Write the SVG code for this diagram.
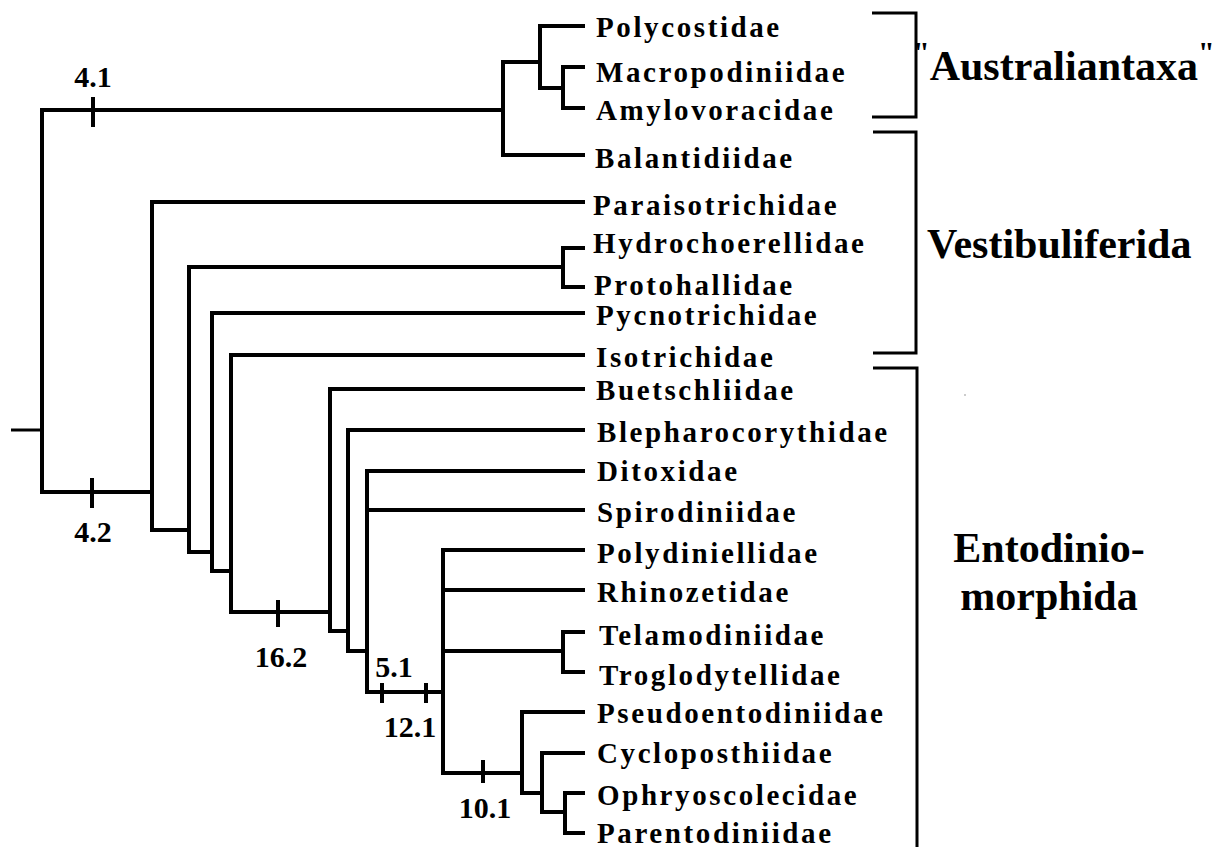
<svg xmlns="http://www.w3.org/2000/svg" width="1217" height="847" viewBox="0 0 1217 847">
<style>
.br{fill:none;stroke:#000;stroke-width:4;stroke-linejoin:miter;stroke-linecap:butt}
.bk{fill:none;stroke:#000;stroke-width:3;stroke-linejoin:miter}
.tk{stroke:#000;stroke-width:4}
.leaf{font-family:"Liberation Serif","Times New Roman",serif;font-weight:bold;font-size:29px;letter-spacing:2.6px;fill:#000}
.num{font-family:"Liberation Serif","Times New Roman",serif;font-weight:bold;font-size:30px;fill:#000;text-anchor:middle}
.grp{font-family:"Liberation Serif","Times New Roman",serif;font-weight:bold;font-size:42px;fill:#000}
</style>
<rect width="1217" height="847" fill="#fff"/>
<g id="connectors">
<path class="br" style="stroke-width:3" d="M11,430 H42"/>
<path class="br" d="M503,110 H42 V492 H152"/>
<path class="br" d="M540,62 H503 V155 H585"/>
<path class="br" d="M585,26 H540 V88 H563"/>
<path class="br" d="M585,67 H563 V108 H585"/>
<path class="br" d="M585,202 H152 V530 H189"/>
<path class="br" d="M563,267 H189 V552 H212"/>
<path class="br" d="M585,248 H563 V287 H585"/>
<path class="br" d="M585,313 H212 V571 H231"/>
<path class="br" d="M585,355 H231 V612 H330"/>
<path class="br" d="M585,389 H330 V631 H348"/>
<path class="br" d="M585,430 H348 V651 H367"/>
<path class="br" d="M585,471 H367 V692 H443"/>
<path class="br" d="M367,510 H585"/>
<path class="br" d="M585,550 H443 V773 H522"/>
<path class="br" d="M443,590 H585"/>
<path class="br" d="M443,651 H563"/>
<path class="br" d="M585,632 H563 V672 H585"/>
<path class="br" d="M585,712 H522 V793 H542"/>
<path class="br" d="M585,753 H542 V812 H565"/>
<path class="br" d="M585,793 H565 V833 H585"/>
<line class="tk" x1="93" y1="97" x2="93" y2="127"/>
<line class="tk" x1="92" y1="478" x2="92" y2="508"/>
<line class="tk" x1="278" y1="600" x2="278" y2="627"/>
<line class="tk" x1="382" y1="683" x2="382" y2="703"/>
<line class="tk" x1="426" y1="683" x2="426" y2="703"/>
<line class="tk" x1="483" y1="760" x2="483" y2="783"/>
<path class="bk" d="M872,13 H916 V117 H872"/>
<path class="bk" d="M873,132 H916 V353 H873"/>
<path class="bk" d="M873,368 H917 V847"/>
</g>
<g id="branch-labels">
<text class="num" x="93" y="87">4.1</text>
<text class="num" x="93" y="542">4.2</text>
<text class="num" x="281" y="667">16.2</text>
<text class="num" x="394" y="677">5.1</text>
<text class="num" x="410" y="737">12.1</text>
<text class="num" x="485" y="818">10.1</text>
</g>
<g id="n-polycostidae"><text class="leaf" x="596" y="37">Polycostidae</text></g>
<g id="n-macropodiniidae"><text class="leaf" x="596" y="82">Macropodiniidae</text></g>
<g id="n-amylovoracidae"><text class="leaf" x="596" y="120">Amylovoracidae</text></g>
<g id="n-balantidiidae"><text class="leaf" x="595" y="168">Balantidiidae</text></g>
<g id="n-paraisotrichidae"><text class="leaf" x="593" y="215">Paraisotrichidae</text></g>
<g id="n-hydrochoerellidae"><text class="leaf" x="593" y="253">Hydrochoerellidae</text></g>
<g id="n-protohallidae"><text class="leaf" x="594" y="295">Protohallidae</text></g>
<g id="n-pycnotrichidae"><text class="leaf" x="596" y="325">Pycnotrichidae</text></g>
<g id="n-isotrichidae"><text class="leaf" x="596" y="367">Isotrichidae</text></g>
<g id="n-buetschliidae"><text class="leaf" x="596" y="400">Buetschliidae</text></g>
<g id="n-blepharocorythidae"><text class="leaf" x="597" y="442">Blepharocorythidae</text></g>
<g id="n-ditoxidae"><text class="leaf" x="597" y="481">Ditoxidae</text></g>
<g id="n-spirodiniidae"><text class="leaf" x="597" y="522">Spirodiniidae</text></g>
<g id="n-polydiniellidae"><text class="leaf" x="597" y="563">Polydiniellidae</text></g>
<g id="n-rhinozetidae"><text class="leaf" x="597" y="602">Rhinozetidae</text></g>
<g id="n-telamodiniidae"><text class="leaf" x="599" y="645">Telamodiniidae</text></g>
<g id="n-troglodytellidae"><text class="leaf" x="599" y="685">Troglodytellidae</text></g>
<g id="n-pseudoentodiniidae"><text class="leaf" x="597" y="723">Pseudoentodiniidae</text></g>
<g id="n-cycloposthiidae"><text class="leaf" x="597" y="763">Cycloposthiidae</text></g>
<g id="n-ophryoscolecidae"><text class="leaf" x="597" y="805">Ophryoscolecidae</text></g>
<g id="n-parentodiniidae"><text class="leaf" x="597" y="843">Parentodiniidae</text></g>
<g id="g-australian"><text class="grp" x="913" y="62"><tspan font-size="30">"</tspan><tspan dy="18">Australiantaxa</tspan><tspan font-size="30" dy="-18">"</tspan></text></g>
<g id="g-vestibuliferida"><text class="grp" x="927" y="258">Vestibuliferida</text></g>
<g id="g-entodiniomorphida"><text class="grp" text-anchor="middle" x="1049" y="562">Entodinio-</text><text class="grp" text-anchor="middle" x="1049" y="610">morphida</text></g>
<circle cx="965" cy="395" r="1" fill="#bbb"/>
</svg>
